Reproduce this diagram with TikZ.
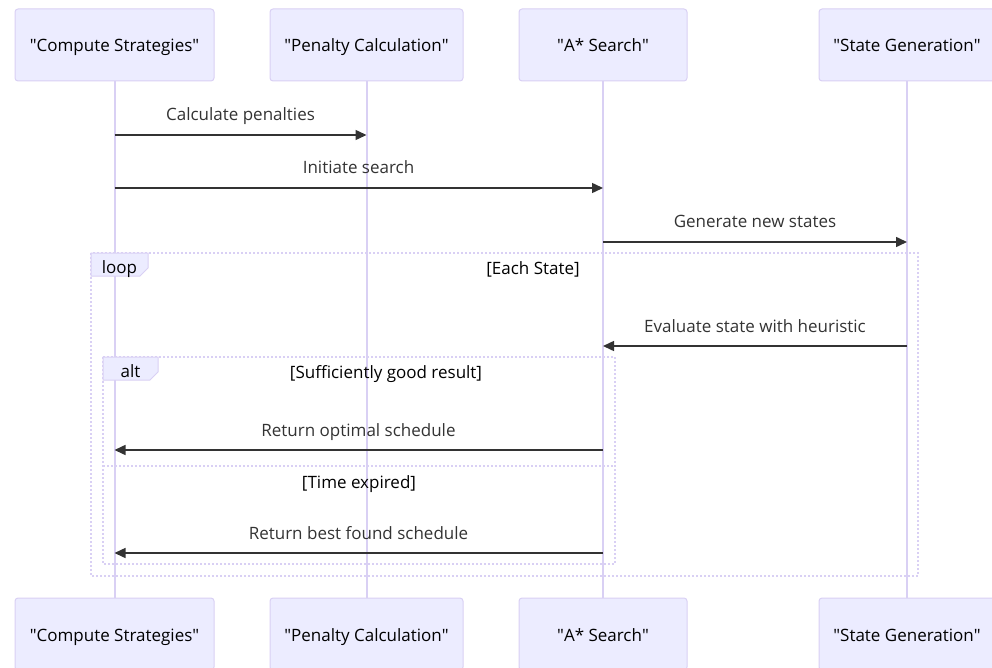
\documentclass[tikz,border=0pt]{standalone}
\usepackage{fontspec}
\setmainfont{Open Sans}
\usetikzlibrary{arrows.meta}

\definecolor{actorfill}{HTML}{ECECFF}
\definecolor{actorline}{HTML}{D9D0F4}
\definecolor{msgcol}{HTML}{333333}

\newcommand{\qt}[1]{\textquotedbl#1\textquotedbl}

\tikzset{
  txt/.style={font=\fontsize{17pt}{20pt}\selectfont, text height=15pt, text depth=1pt},
  actor/.style={txt, draw=actorline, fill=actorfill, line width=1pt, rounded corners=3pt,
    minimum height=72pt, inner sep=0pt, text=black},
  lifeline/.style={draw=actorline, line width=2pt},
  msg/.style={draw=msgcol, line width=1.5pt, -{Triangle[length=11pt,width=10pt]}},
  msgtext/.style={txt, text=msgcol, inner sep=0pt},
  frame/.style={draw=actorline, line width=2pt, dash pattern=on 2pt off 2pt},
  tab/.style={draw=actorline, fill=actorfill, line width=1pt},
  framelabel/.style={txt, text=black, inner sep=0pt},
}

\begin{document}
\begin{tikzpicture}[x=1pt, y=-1pt]
\useasboundingbox (0,0) rectangle (992,668);

% participants, top and bottom
\node[actor, minimum width=199pt] (cs)  at (114.5,45) {\qt{Compute Strategies}};
\node[actor, minimum width=193pt] (pc)  at (366.5,45) {\qt{Penalty Calculation}};
\node[actor, minimum width=168pt] (as)  at (603,45)   {\qt{A* Search}};
\node[actor, minimum width=176pt] (sg)  at (907,45)   {\qt{State Generation}};
\node[actor, minimum width=199pt] (csb) at (114.5,634) {\qt{Compute Strategies}};
\node[actor, minimum width=193pt] (pcb) at (366.5,634) {\qt{Penalty Calculation}};
\node[actor, minimum width=168pt] (asb) at (603,634)   {\qt{A* Search}};
\node[actor, minimum width=176pt] (sgb) at (907,634)   {\qt{State Generation}};

% lifelines
\draw[lifeline] (cs.south) -- (csb.north);
\draw[lifeline] (pc.south) -- (pcb.north);
\draw[lifeline] (as.south) -- (asb.north);
\draw[lifeline] (sg.south) -- (sgb.north);

% loop frame
\draw[frame] (91,253) rectangle (918,576);
\path[tab] (91,253) -- (148,253) -- (148,268) -- (140,276) -- (91,276) -- cycle;
\node[framelabel] (looplbl) at (119.5,266) {loop};
\node[framelabel] (loopcond) at (533,267) {[Each State]};

% alt frame
\draw[frame] (103,357) rectangle (615,564);
\draw[frame] (103,466) -- (615,466);
\path[tab] (103,357) -- (158,357) -- (158,372) -- (150,380) -- (103,380) -- cycle;
\node[framelabel] (altlbl) at (130.5,370) {alt};
\node[framelabel] (altcond) at (386,371) {[Sufficiently good result]};
\node[framelabel] (elsecond) at (359,481) {[Time expired]};

% messages
\draw[msg] (cs |- 0,135) -- (pc |- 0,135);
\node[msgtext] (t1) at (240.5,114) {Calculate penalties};
\draw[msg] (cs |- 0,188) -- (as |- 0,188);
\node[msgtext] (t2) at (358.5,167) {Initiate search};
\draw[msg] (as |- 0,242) -- (sg |- 0,242);
\node[msgtext] (t3) at (755,221) {Generate new states};
\draw[msg] (sg |- 0,346) -- (as |- 0,346);
\node[msgtext] (t4) at (755,325) {Evaluate state with heuristic};
\draw[msg] (as |- 0,450) -- (cs |- 0,450);
\node[msgtext] (t5) at (358.5,429) {Return optimal schedule};
\draw[msg] (as |- 0,553) -- (cs |- 0,553);
\node[msgtext] (t6) at (358.5,532) {Return best found schedule};
\end{tikzpicture}
\end{document}
